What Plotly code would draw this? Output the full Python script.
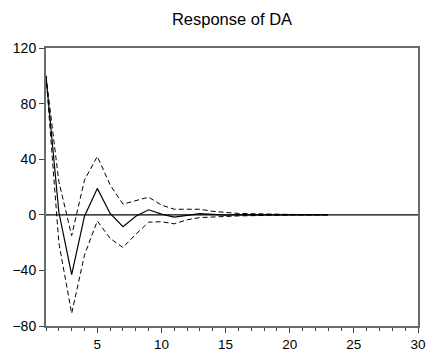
import plotly.graph_objects as go

periods = list(range(1, 24))
response = [100, 2, -43, -1, 19, 1, -8.5, -1, 3.6, 0.5, -1.7, -0.5, 0.8, 0.3, -0.2, 0.1, 0.1, 0, 0, 0, 0, 0, 0]
upper = [100, 24, -15, 25, 42, 21.5, 7.7, 10.3, 12.7, 7, 4, 4, 4, 2.5, 1.5, 1, 0.8, 0.5, 0.4, 0.3, 0.2, 0.1, 0.1]
lower = [100, -20, -71, -29, -4.4, -17, -23.5, -14, -5.3, -5, -6.5, -3.6, -2, -1.8, -1.2, -0.8, -0.5, -0.4, -0.3, -0.2, -0.1, -0.1, -0.1]
title = "Response of DA"
x_ticks = [5, 10, 15, 20, 25, 30]
y_ticks = [-80, -40, 0, 40, 80, 120]

fig = go.Figure()
fig.add_trace(go.Scatter(x=[1, 30], y=[0, 0], mode="lines",
                         line=dict(color="black", width=1.2), hoverinfo="skip"))
fig.add_trace(go.Scatter(x=periods, y=upper, mode="lines",
                         line=dict(color="black", width=1, dash="5px,3px")))
fig.add_trace(go.Scatter(x=periods, y=lower, mode="lines",
                         line=dict(color="black", width=1, dash="5px,3px")))
fig.add_trace(go.Scatter(x=periods, y=response, mode="lines",
                         line=dict(color="black", width=1.2)))

x_font = dict(family="Liberation Sans, Arial, sans-serif", size=13.5, color="black")
y_font = dict(family="Liberation Sans, Arial, sans-serif", size=14, color="black")
fig.update_layout(
    template="none",
    width=430, height=351,
    margin=dict(l=46, r=12, t=48, b=25, pad=0),
    paper_bgcolor="white", plot_bgcolor="white",
    showlegend=False,
    title=dict(text=title, x=232 / 430, xanchor="center", y=1 - 19 / 351, yanchor="middle",
               font=dict(family="Liberation Sans, Arial, sans-serif", size=16.5, color="black")),
    xaxis=dict(range=[1, 30], tickvals=x_ticks, ticks="outside", ticklen=5, tickcolor="#444",
               tickwidth=1, showgrid=False, zeroline=False, showline=True, linecolor="#6a6a6a",
               linewidth=2, mirror=True, tickfont=x_font, automargin=False,
               minor=dict(dtick=1, tick0=1, ticks="outside", ticklen=3, tickcolor="#444", showgrid=False)),
    yaxis=dict(range=[-80, 120], tickvals=y_ticks, ticks="outside", ticklen=5, tickcolor="#444",
               tickwidth=1, showgrid=False, zeroline=False, showline=True, linecolor="#6a6a6a",
               linewidth=2, mirror=True, tickfont=y_font, automargin=False),
)
fig.write_html("out.html")
